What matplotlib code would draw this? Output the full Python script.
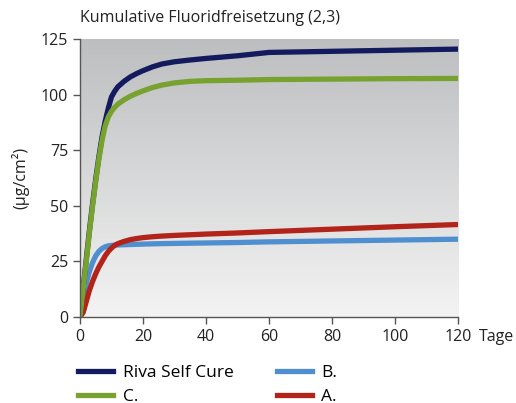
import matplotlib.pyplot as plt
import numpy as np
from matplotlib.colors import LinearSegmentedColormap
from matplotlib.lines import Line2D

plt.rcParams['font.family'] = ['Open Sans', 'DejaVu Sans']

# data
days = [0, 1, 2, 3, 4, 5, 6, 7, 8, 9, 10, 11, 12, 14, 16, 18, 20, 23, 26, 30, 35, 40, 50, 60, 80, 100, 120]
riva = [0, 13, 26, 39, 51, 62, 72, 81, 88, 94, 99, 101.5, 103.5, 106, 108, 109.5, 110.8, 112.5, 113.8, 114.8, 115.6, 116.3, 117.5, 119, 119.5, 120, 120.5]
c_vals = [0, 12.5, 25, 38, 50, 61, 71, 79.5, 86, 90, 92.5, 94.3, 95.7, 97.7, 99.3, 100.6, 101.7, 103.2, 104.3, 105.3, 106, 106.3, 106.5, 106.8, 107, 107.2, 107.3]
b_vals = [0, 8, 15, 20.5, 24.5, 27.5, 29.5, 30.8, 31.6, 32, 32.2, 32.3, 32.4, 32.5, 32.6, 32.7, 32.8, 32.9, 33, 33.1, 33.2, 33.3, 33.5, 33.8, 34.2, 34.6, 35]
a_vals = [0, 2, 7, 12, 16, 19.5, 22.5, 25, 27.5, 29.5, 31, 32.2, 33, 34, 34.8, 35.3, 35.7, 36.1, 36.4, 36.7, 37, 37.3, 37.8, 38.4, 39.5, 40.6, 41.6]

colors = {'Riva Self Cure': '#141a5e', 'B.': '#4f8fd0', 'C.': '#78a22f', 'A.': '#b2231a'}

fig = plt.figure(figsize=(5.16, 4.03), dpi=100)
ax = fig.add_axes([0.155, 0.2134, 0.7326, 0.6896])

# grey gradient background
grad = LinearSegmentedColormap.from_list('bg', ['#f3f3f3', '#bdbec0'])
ax.imshow(np.linspace(0, 1, 256).reshape(-1, 1), cmap=grad, origin='lower',
          extent=[0, 120, 0, 125], aspect='auto', zorder=0)

lw = 3.8
ax.plot(days, a_vals, color=colors['A.'], lw=lw, zorder=2, solid_capstyle='butt')
ax.plot(days, b_vals, color=colors['B.'], lw=lw, zorder=1.9, solid_capstyle='butt')
ax.plot(days, riva, color=colors['Riva Self Cure'], lw=lw, zorder=2, solid_capstyle='butt')
ax.plot(days, c_vals, color=colors['C.'], lw=lw, zorder=2.1, solid_capstyle='butt')

ax.set_xlim(0, 120)
ax.set_ylim(0, 125)
ax.set_xticks(range(0, 121, 20))
ax.set_yticks(range(0, 126, 25))
for s in ['top', 'right']:
    ax.spines[s].set_visible(False)
for s in ['left', 'bottom']:
    ax.spines[s].set_color('#555555')
    ax.spines[s].set_linewidth(1.0)
ax.tick_params(colors='#555555', labelcolor='#222222', labelsize=11.5, length=5, width=1)

ax.text(0, 131, 'Kumulative Fluoridfreisetzung (2,3)', fontsize=11.5, color='#222222',
        ha='left', va='bottom')
ax.text(-19, 62.5, '(µg/cm²)', rotation=90, fontsize=11.5, color='#222222',
        ha='center', va='center')
fig.text(0.928, 0.163, 'Tage', fontsize=11.5, color='#222222', ha='left', va='center')

handles = [Line2D([], [], color=colors[l], lw=lw) for l in ['Riva Self Cure', 'C.', 'B.', 'A.']]
fig.legend(handles, ['Riva Self Cure', 'C.', 'B.', 'A.'], ncol=2, frameon=False,
           loc='upper left', bbox_to_anchor=(0.152, 0.094), fontsize=12.5,
           handlelength=2.0, columnspacing=2.5, labelspacing=0.45, handletextpad=0.55,
           borderpad=0, borderaxespad=0)

fig.savefig('out.png', dpi=100)
